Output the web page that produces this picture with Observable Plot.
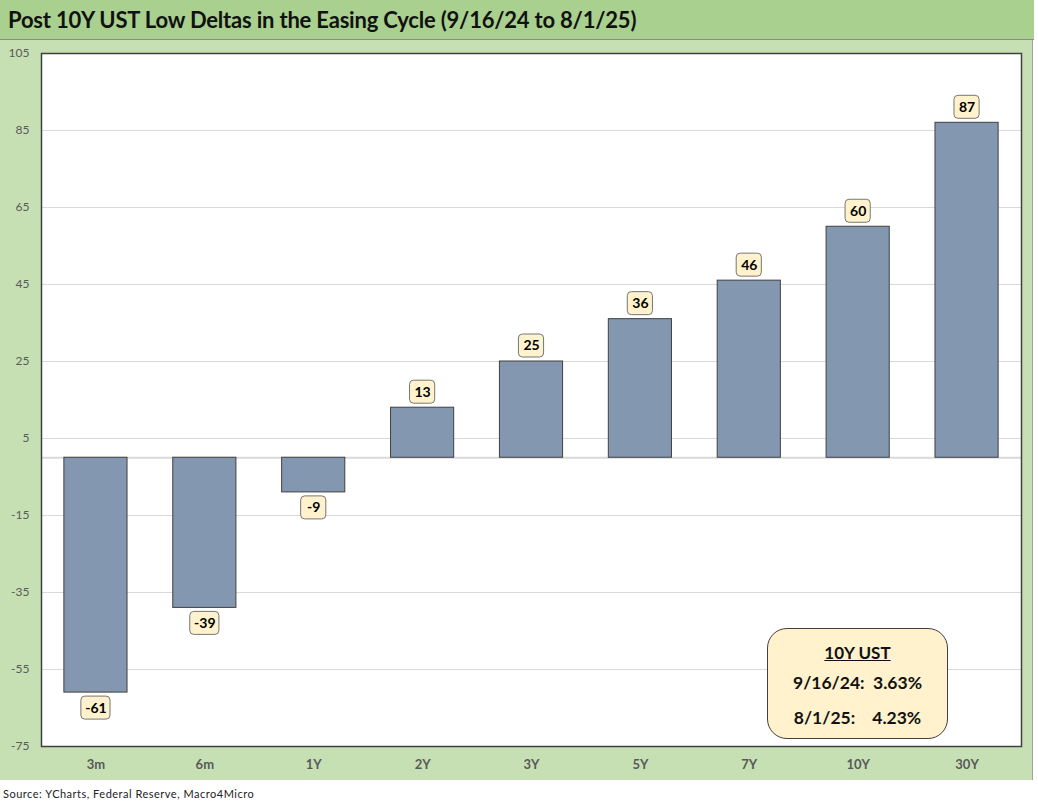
<!DOCTYPE html>
<html>
<head>
<meta charset="utf-8">
<script src="https://cdn.jsdelivr.net/npm/d3@7"></script>
<script src="https://cdn.jsdelivr.net/npm/@observablehq/plot@0.6"></script>
<style>
  html, body { margin: 0; padding: 0; background: #ffffff; }
  body { width: 1038px; height: 808px; position: relative; overflow: hidden; font-family: Lato, "Open Sans", sans-serif; }
  #title { position: absolute; left: 0; top: 0; width: 1034px; height: 39px; background: #a9d08e; border-bottom: 1px solid #8c8c8c; }
  #title span { position: absolute; left: 8px; top: 6px; font-size: 22px; font-weight: bold; color: #111; white-space: nowrap; letter-spacing: -0.2px; }
  #panel { position: absolute; left: 0; top: 40px; width: 1032px; height: 740px; background: #c6e0b4; border-right: 1px solid #a0a0a0; }
  #chart { position: absolute; left: 0; top: 0; }
  #legendbox { position: absolute; left: 767px; top: 628px; width: 179px; height: 109px; background: #fff2cc; border: 1px solid #404040; border-radius: 20px; text-align: center; color: #111; font-weight: bold; }
  #legendbox .h { position: absolute; left: 0; right: 0; top: 13px; font-size: 17px; text-decoration: underline; }
  #legendbox .r1 { position: absolute; left: 0; right: 0; top: 43px; font-size: 17.5px; white-space: pre; }
  #legendbox .r2 { position: absolute; left: 0; right: 0; top: 78px; font-size: 17.5px; white-space: pre; }
  #source { position: absolute; left: 3px; top: 787px; font-size: 11px; color: #222; letter-spacing: 0.5px; white-space: nowrap; }
</style>
</head>
<body>
<div id="title"><span>Post 10Y UST Low Deltas in the Easing Cycle (9/16/24 to 8/1/25)</span></div>
<div id="panel"><div id="chart"></div></div>
<div id="legendbox">
  <div class="h">10Y UST</div>
  <div class="r1">9/16/24:  3.63%</div>
  <div class="r2">8/1/25:    4.23%</div>
</div>
<div id="source">Source: YCharts, Federal Reserve, Macro4Micro</div>
<script>
const tenors = ["3m", "6m", "1Y", "2Y", "3Y", "5Y", "7Y", "10Y", "30Y"];
const deltas = [-61, -39, -9, 13, 25, 36, 46, 60, 87];
const yTicks = [105, 85, 65, 45, 25, 5, -15, -35, -55, -75];

const W = 1032, H = 740, mT = 13, mB = 34, mL = 41, mR = 11;
const yDomain = [-75, 105];
const ppu = (H - mT - mB) / (yDomain[1] - yDomain[0]); // pixels per data unit
const gap = 4 / ppu, boxH = 23 / ppu;

const data = tenors.map((t, i) => ({tenor: t, delta: deltas[i], label: String(deltas[i])}));
const boxes = data.map(d => {
  const s = Math.sign(d.delta) || 1;
  return {
    tenor: d.tenor,
    label: d.label,
    b1: d.delta + s * gap,
    b2: d.delta + s * (gap + boxH),
    mid: d.delta + s * (gap + boxH / 2),
    wide: d.label.length > 2
  };
});

const boxStyle = {fill: "#fff2cc", stroke: "#767676", strokeWidth: 1, rx: 4, ry: 4};

const chart = Plot.plot({
  width: W,
  height: H,
  marginTop: mT,
  marginBottom: mB,
  marginLeft: mL,
  marginRight: mR,
  style: {background: "transparent", fontFamily: "Lato, 'Open Sans', sans-serif"},
  x: {domain: tenors, paddingInner: 0.42, paddingOuter: 0.21, round: false, label: null},
  y: {domain: yDomain, label: null},
  marks: [
    Plot.frame({fill: "white", stroke: "none"}),
    Plot.gridY(yTicks, {stroke: "#d9d9d9", strokeOpacity: 1}),
    Plot.ruleY([0], {stroke: "#d9d9d9", strokeWidth: 2}),
    Plot.barY(data, {x: "tenor", y: "delta", fill: "#8497b0", stroke: "#404040", strokeWidth: 1}),
    Plot.barY(boxes.filter(d => d.wide), {x: "tenor", y1: "b1", y2: "b2", insetLeft: 17, insetRight: 17, ...boxStyle}),
    Plot.barY(boxes.filter(d => !d.wide), {x: "tenor", y1: "b1", y2: "b2", insetLeft: 19, insetRight: 19, ...boxStyle}),
    Plot.text(boxes, {x: "tenor", y: "mid", text: "label", fontSize: 14, fontWeight: "bold", fill: "#000"}),
    Plot.axisY(yTicks, {tickSize: 0, tickPadding: 12, fontSize: 12, fill: "#595959", tickFormat: d => String(d)}),
    Plot.axisX({tickSize: 0, tickPadding: 13, fontSize: 13, fontWeight: "bold", fill: "#595959"}),
    Plot.frame({stroke: "#404040", strokeWidth: 1.5})
  ]
});
document.getElementById("chart").appendChild(chart);
</script>
</body>
</html>
